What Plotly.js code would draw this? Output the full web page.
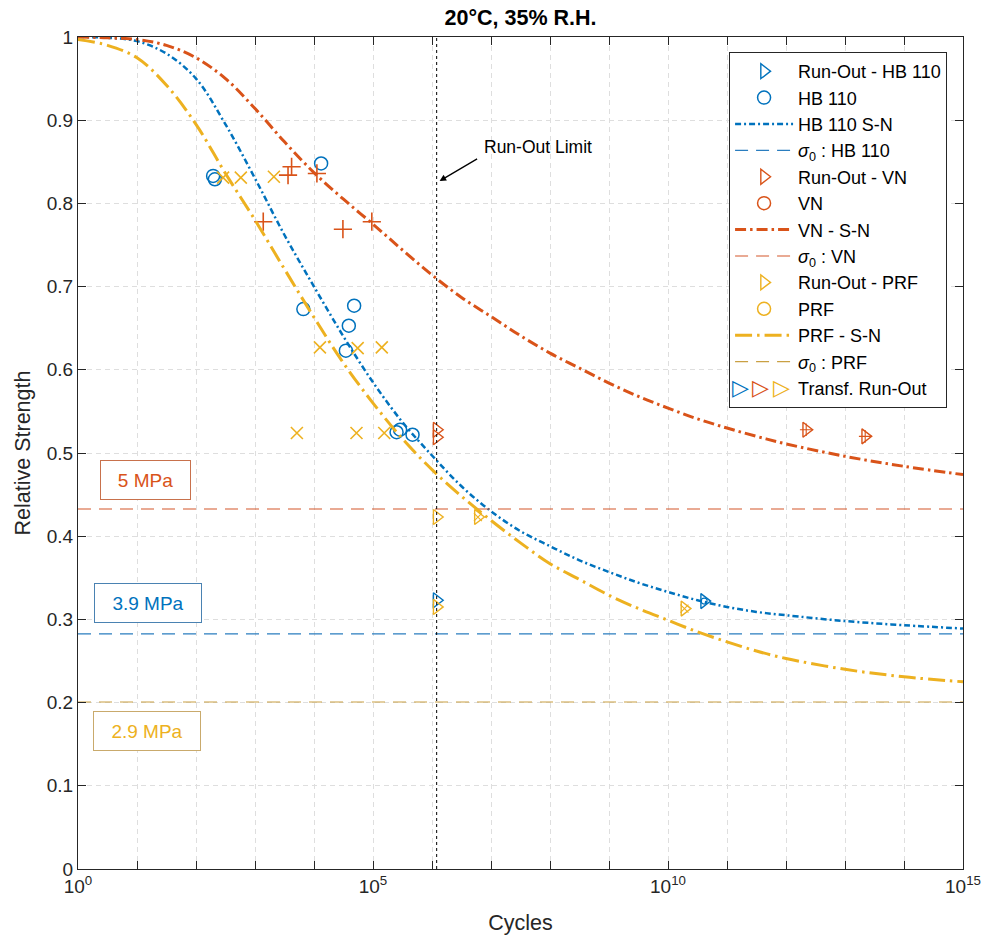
<!DOCTYPE html>
<html>
<head>
<meta charset="utf-8">
<script src="https://cdn.plot.ly/plotly-3.0.1.min.js"></script>
<style>html,body{margin:0;padding:0;background:#fff;}#chart{width:987px;height:938px;}</style>
</head>
<body>
<div id="chart"></div>
<script>
// ---- data ----
const runOutLimit = 1.2e6;

// S-N curves (cycles, relative strength)
const snCycles = [1, 3.16, 10, 31.6, 100, 316, 1e3, 3.16e3, 1e4, 3.16e4, 1e5, 3.16e5, 1e6, 3.16e6, 1e7, 3.16e7, 1e8, 3.16e8, 1e9, 3.16e9, 1e10, 3.16e10, 1e11, 3.16e11, 1e12, 1e13, 1e14, 1e15];
const snHB  = [1.000, 0.999, 0.995, 0.980, 0.950, 0.895, 0.830, 0.762, 0.700, 0.640, 0.585, 0.537, 0.497, 0.460, 0.430, 0.406, 0.388, 0.371, 0.357, 0.344, 0.333, 0.323, 0.315, 0.309, 0.305, 0.298, 0.293, 0.289];
const snVN  = [1.000, 0.999, 0.997, 0.990, 0.975, 0.950, 0.914, 0.874, 0.837, 0.805, 0.775, 0.744, 0.714, 0.687, 0.664, 0.641, 0.620, 0.602, 0.584, 0.568, 0.554, 0.541, 0.530, 0.520, 0.511, 0.496, 0.484, 0.474];
const snPRF = [0.997, 0.990, 0.975, 0.942, 0.895, 0.836, 0.780, 0.721, 0.663, 0.608, 0.560, 0.517, 0.480, 0.448, 0.419, 0.392, 0.367, 0.348, 0.329, 0.313, 0.299, 0.285, 0.273, 0.262, 0.253, 0.240, 0.231, 0.225];

// sigma_0 levels
const sigma0HB = 0.2825, sigma0VN = 0.4327, sigma0PRF = 0.2007;
const axisCycles = [1, 1e15];

// test points
const hbCycles = [195, 209, 6600, 13200, 34700, 38900, 47900, 251000, 288000, 468000];
const hbStrength = [0.833, 0.829, 0.673, 0.848, 0.623, 0.653, 0.677, 0.525, 0.528, 0.522];
const vnCycles = [1380, 3630, 4170, 11200, 30900, 95500];
const vnStrength = [0.778, 0.834, 0.844, 0.836, 0.769, 0.778];
const prfCycles = [288, 575, 2090, 5130, 12600, 52500, 55000, 141000, 155000];
const prfStrength = [0.831, 0.831, 0.832, 0.524, 0.627, 0.524, 0.626, 0.627, 0.524];

// run-outs
const roHBCycles = [1.2e6], roHBStrength = [0.323];
const roVNCycles = [1.2e6, 1.2e6], roVNStrength = [0.528, 0.519];
const roPRFCycles = [1.2e6, 1.2e6], roPRFStrength = [0.423, 0.315];

// transformed run-outs
const trHBCycles = [4.1e10], trHBStrength = [0.322];
const trVNCycles = [2.2e12, 2.2e13], trVNStrength = [0.528, 0.520];
const trPRFCycles = [6.0e6, 1.9e10], trPRFStrength = [0.423, 0.313];

const xTickVals = [1,1e1,1e2,1e3,1e4,1e5,1e6,1e7,1e8,1e9,1e10,1e11,1e12,1e13,1e14,1e15];
const xTickText = ['10<sup>0</sup>','','','','','10<sup>5</sup>','','','','','10<sup>10</sup>','','','','','10<sup>15</sup>'];

// ---- styling ----
const cHB = '#0072BD', cVN = '#D95319', cPRF = '#EDB120';
const FONT = 'Liberation Sans, Arial, Helvetica, sans-serif';
const tri = (c) => ({symbol: 'triangle-right-open', size: 13, color: c, line: {color: c, width: 1.4}});

const traces = [
  {x: roHBCycles, y: roHBStrength, mode: 'markers', name: 'Run-Out - HB 110', marker: tri(cHB)},
  {x: hbCycles, y: hbStrength, mode: 'markers', name: 'HB 110',
   marker: {symbol: 'circle-open', size: 13, color: cHB, line: {color: cHB, width: 1.5}}},
  {x: snCycles, y: snHB, mode: 'lines', name: 'HB 110 S-N', line: {color: cHB, width: 2.5, dash: '6px,3px,2px,3px', shape: 'spline'}},
  {x: axisCycles, y: [sigma0HB, sigma0HB], mode: 'lines', name: '<i>σ</i><sub>0</sub> : HB 110', line: {color: '#2a7dbf', width: 1.2, dash: '13px,8px'}},
  {x: roVNCycles, y: roVNStrength, mode: 'markers', name: 'Run-Out - VN', marker: tri(cVN)},
  {x: [null], y: [null], mode: 'markers', name: 'VN',
   marker: {symbol: 'circle-open', size: 13, color: cVN, line: {color: cVN, width: 1.5}}},
  {x: vnCycles, y: vnStrength, mode: 'markers', name: 'VN', showlegend: false,
   marker: {symbol: 'cross-thin-open', size: 13, color: cVN, line: {color: cVN, width: 1.6}}},
  {x: snCycles, y: snVN, mode: 'lines', name: 'VN - S-N', line: {color: cVN, width: 3, dash: '11px,4px,2.5px,4px', shape: 'spline'}},
  {x: axisCycles, y: [sigma0VN, sigma0VN], mode: 'lines', name: '<i>σ</i><sub>0</sub> : VN', line: {color: '#d4572a', width: 1.2, dash: '13px,8px'}},
  {x: roPRFCycles, y: roPRFStrength, mode: 'markers', name: 'Run-Out - PRF', marker: tri(cPRF)},
  {x: [null], y: [null], mode: 'markers', name: 'PRF',
   marker: {symbol: 'circle-open', size: 13, color: cPRF, line: {color: cPRF, width: 1.5}}},
  {x: prfCycles, y: prfStrength, mode: 'markers', name: 'PRF', showlegend: false,
   marker: {symbol: 'x-thin-open', size: 12, color: cPRF, line: {color: cPRF, width: 1.6}}},
  {x: snCycles, y: snPRF, mode: 'lines', name: 'PRF - S-N', line: {color: cPRF, width: 3, dash: '17px,5px,2.5px,5px', shape: 'spline'}},
  {x: axisCycles, y: [sigma0PRF, sigma0PRF], mode: 'lines', name: '<i>σ</i><sub>0</sub> : PRF', line: {color: '#c9a043', width: 1.2, dash: '13px,8px'}},
  // legend entry for transformed run-outs (icons drawn as annotations)
  {x: [null], y: [null], mode: 'markers', name: 'Transf. Run-Out',
   marker: {symbol: 'triangle-right-open', size: 13, color: 'rgba(0,0,0,0)', line: {color: 'rgba(0,0,0,0)', width: 0}}},
  {x: trHBCycles, y: trHBStrength, mode: 'markers', showlegend: false, marker: tri(cHB)},
  {x: trHBCycles, y: trHBStrength, mode: 'markers', showlegend: false,
   marker: {symbol: 'circle-open', size: 6, color: cHB, line: {color: cHB, width: 1.1}}},
  {x: trVNCycles, y: trVNStrength, mode: 'markers', showlegend: false, marker: tri(cVN)},
  {x: trVNCycles, y: trVNStrength, mode: 'markers', showlegend: false,
   marker: {symbol: 'cross-thin-open', size: 9, color: cVN, line: {color: cVN, width: 1.1}}},
  {x: trPRFCycles, y: trPRFStrength, mode: 'markers', showlegend: false, marker: tri(cPRF)},
  {x: trPRFCycles, y: trPRFStrength, mode: 'markers', showlegend: false,
   marker: {symbol: 'x-thin-open', size: 8, color: cPRF, line: {color: cPRF, width: 1.1}}},
  {x: [runOutLimit, runOutLimit], y: [0, 1], mode: 'lines', showlegend: false, hoverinfo: 'skip',
   line: {color: '#000', width: 1, dash: 'dot'}}
];

const axisCommon = {
  showline: true, linecolor: '#262626', linewidth: 1, mirror: 'ticks',
  ticks: 'inside', ticklen: 8, tickcolor: '#262626', tickwidth: 1,
  showgrid: true, gridcolor: '#dedede', gridwidth: 1, griddash: '5px,4px',
  zeroline: false, tickfont: {family: FONT, size: 19, color: '#262626'}
};

const legIcon = (txt, c, xp) => ({xref: 'paper', yref: 'paper', x: xp, y: 0.5785, xanchor: 'center', yanchor: 'middle',
  text: txt, showarrow: false, font: {family: 'DejaVu Sans', size: 22, color: c}});

const layout = {
  width: 987, height: 938,
  margin: {l: 78, r: 24, t: 37, b: 69},
  paper_bgcolor: '#fff', plot_bgcolor: '#fff',
  font: {family: FONT, color: '#262626'},
  title: {text: '<b>20°C, 35% R.H.</b>', font: {family: FONT, size: 21.5, color: '#000'},
          x: 0.5, xref: 'paper', xanchor: 'center', y: 0.981, yref: 'container', yanchor: 'middle'},
  xaxis: Object.assign({}, axisCommon, {
    type: 'log', range: [0, 15], tickmode: 'array', tickvals: xTickVals, ticktext: xTickText,
    title: {text: 'Cycles', font: {family: FONT, size: 21.5, color: '#262626'}, standoff: 19}
  }),
  yaxis: Object.assign({}, axisCommon, {
    range: [0, 1], tick0: 0, dtick: 0.1,
    title: {text: 'Relative Strength', font: {family: FONT, size: 21.5, color: '#262626'}, standoff: 10}
  }),
  legend: {
    x: 0.982, xanchor: 'right', y: 0.982, yanchor: 'top',
    bgcolor: '#fff', bordercolor: '#262626', borderwidth: 1,
    font: {family: FONT, size: 18, color: '#000'},
    itemwidth: 58, tracegroupgap: 0
  },
  annotations: [
    {xref: 'x', yref: 'y', x: 7.8, y: 0.868, text: 'Run-Out Limit', showarrow: false,
     font: {family: FONT, size: 17.5, color: '#000'}},
    {xref: 'x', yref: 'y', x: Math.log10(runOutLimit) + 0.05, y: 0.827, text: '', showarrow: true,
     ax: 39, ay: -23, arrowhead: 2, arrowsize: 1, arrowwidth: 1.3, arrowcolor: '#000'},
    {xref: 'paper', yref: 'y', x: 0.0763, y: 0.4675, xanchor: 'center', yanchor: 'middle', text: '5 MPa', showarrow: false,
     font: {family: FONT, size: 19, color: cVN}, width: 89, height: 38, borderpad: 0,
     bordercolor: '#c8714c', borderwidth: 1, bgcolor: '#fff'},
    {xref: 'paper', yref: 'y', x: 0.0794, y: 0.3197, xanchor: 'center', yanchor: 'middle', text: '3.9 MPa', showarrow: false,
     font: {family: FONT, size: 19, color: cHB}, width: 106, height: 38, borderpad: 0,
     bordercolor: '#4a82b2', borderwidth: 1, bgcolor: '#fff'},
    {xref: 'paper', yref: 'y', x: 0.0783, y: 0.1656, xanchor: 'center', yanchor: 'middle', text: '2.9 MPa', showarrow: false,
     font: {family: FONT, size: 19, color: cPRF}, width: 106, height: 38, borderpad: 0,
     bordercolor: '#c9aa6c', borderwidth: 1, bgcolor: '#fff'},
    legIcon('▷', cHB, 0.7485),
    legIcon('▷', cVN, 0.7715),
    legIcon('▷', cPRF, 0.7945)
  ]
};

Plotly.newPlot('chart', traces, layout, {displayModeBar: false, staticPlot: true});
</script>
</body>
</html>
